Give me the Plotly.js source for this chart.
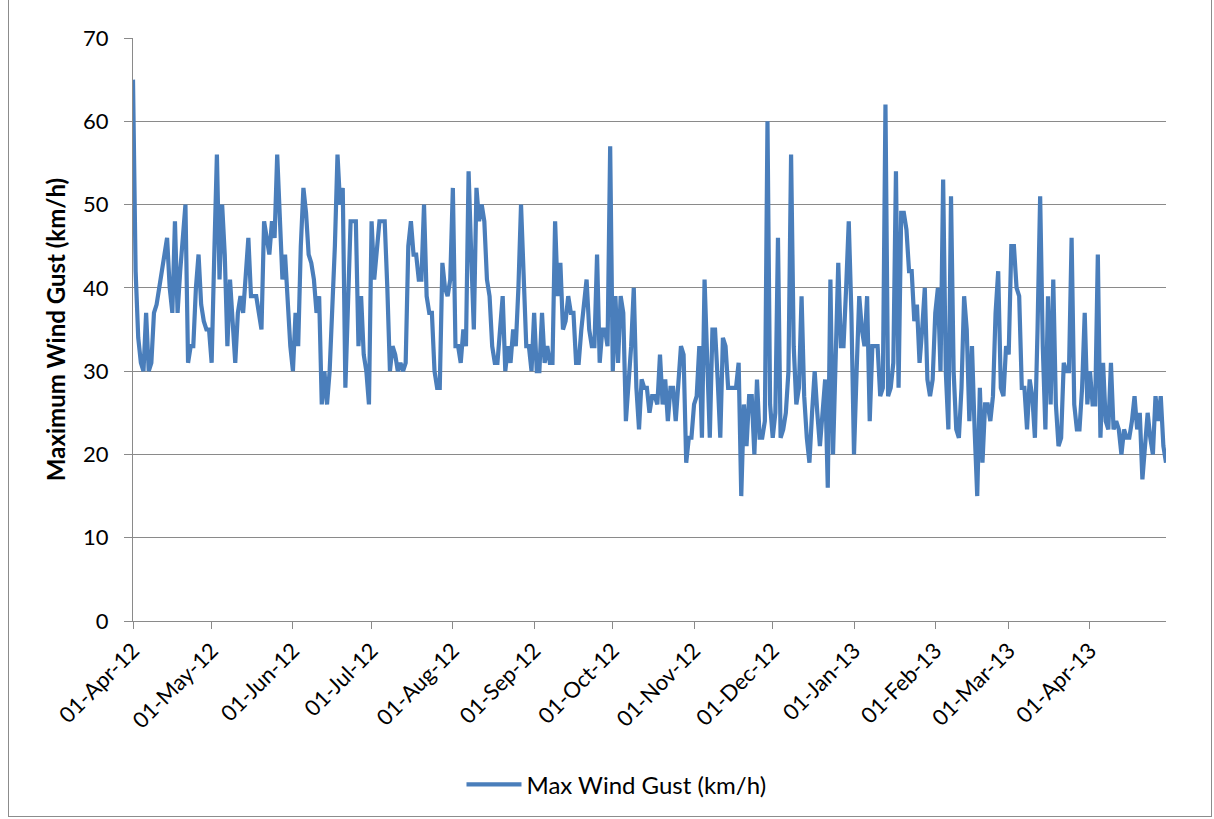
<!DOCTYPE html>
<html>
<head>
<meta charset="utf-8">
<script src="https://cdn.plot.ly/plotly-3.0.1.min.js"></script>
<style>
  html, body { margin: 0; padding: 0; background: #ffffff; }
  #wrap { position: relative; width: 1214px; height: 819px; }
  #chart { width: 1214px; height: 819px; }
  #frame { position: absolute; left: 8px; top: -1px; width: 1204px; height: 818px;
           border: 1px solid #8c8c8c; pointer-events: none; box-sizing: border-box; }
</style>
</head>
<body>
<div id="wrap">
  <div id="chart"></div>
  <div id="frame"></div>
</div>
<script>
// Daily maximum wind gust (km/h), one array per month, 1 Apr 2012 – 30 Apr 2013
const apr12 = [65,42,34,31,30,37,30,31,37,38,40,42,44,46,40,37,48,37,42,46,50,31,33,33,40,44,38,36,35,35];
const may12 = [31,44,56,41,50,44,33,41,35,31,37,39,37,42,46,39,39,39,37,35,48,46,44,48,46,56,48,41,44,38,33];
const jun12 = [30,37,33,45,52,49,44,43,41,37,39,26,30,26,30,37,45,56,50,52,28,38,48,48,48,33,39,32,30,26];
const jul12 = [48,41,44,48,48,48,40,30,33,32,30,31,30,31,45,48,44,44,41,41,50,39,37,37,30,28,28,43,40,39,41];
const aug12 = [52,33,33,31,35,33,54,44,35,52,48,50,48,41,39,33,31,31,35,39,30,33,31,35,33,40,50,40,33,33,30];
const sep12 = [37,30,30,37,31,33,31,31,48,39,43,35,36,39,37,37,31,31,35,38,41,35,33,33,44,31,35,35,33,57];
const oct12 = [30,39,31,39,37,24,28,33,40,28,23,29,28,28,25,27,27,26,32,26,29,24,28,28,24,28,33,32,19,22,22];
const nov12 = [26,27,33,22,41,31,22,35,35,29,22,34,33,28,28,28,28,31,15,26,21,27,27,20,29,22,22,24,60,26];
const dec12 = [22,25,46,22,23,25,30,56,33,26,28,39,27,22,19,25,30,25,21,25,29,16,41,20,33,43,33,33,40,48,37];
const jan13 = [20,30,39,35,33,39,24,33,33,33,27,28,62,27,28,31,54,28,49,49,47,42,42,36,38,31,35,40,29,27,29];
const feb13 = [37,40,30,53,30,23,51,30,23,22,28,39,35,24,33,23,15,28,19,26,26,24,27,37,42,28,27,33];
const mar13 = [32,45,45,40,39,28,28,23,29,27,22,35,51,33,23,39,26,41,26,21,22,31,30,30,46,26,23,23,28,37,26];
const apr13 = [30,26,26,44,22,31,24,23,31,23,24,23,20,23,22,22,24,27,23,25,17,22,25,22,20,27,24,27,21,19];

const months = [apr12, may12, jun12, jul12, aug12, sep12, oct12, nov12, dec12, jan13, feb13, mar13, apr13];
const monthStarts = ['2012-04-01','2012-05-01','2012-06-01','2012-07-01','2012-08-01','2012-09-01',
                     '2012-10-01','2012-11-01','2012-12-01','2013-01-01','2013-02-01','2013-03-01','2013-04-01'];
const tickLabels = ['01-Apr-12','01-May-12','01-Jun-12','01-Jul-12','01-Aug-12','01-Sep-12',
                    '01-Oct-12','01-Nov-12','01-Dec-12','01-Jan-13','01-Feb-13','01-Mar-13','01-Apr-13'];
const seriesName = 'Max Wind Gust (km/h)';

// Build the daily date axis from each month's start and its number of readings
function pad(n) { return (n < 10 ? '0' : '') + n; }
const dates = [];
const gusts = [];
months.forEach(function (vals, mi) {
  const prefix = monthStarts[mi].slice(0, 8);
  vals.forEach(function (v, di) {
    dates.push(prefix + pad(di + 1));
    gusts.push(v);
  });
});

const FONT = 'Lato, Carlito, Calibri, "Open Sans", sans-serif';
const GRID = '#8a8a8a';

const trace = {
  type: 'scatter',
  mode: 'lines',
  x: dates,
  y: gusts,
  name: seriesName,
  showlegend: true,
  line: { color: '#4a7ebb', width: 4.2 },
  hoverinfo: 'x+y'
};

const layout = {
  width: 1214,
  height: 819,
  margin: { l: 133, r: 48, t: 38, b: 198 },
  paper_bgcolor: '#ffffff',
  plot_bgcolor: '#ffffff',
  font: { family: FONT, size: 22, color: '#000000' },
  xaxis: {
    type: 'date',
    range: [dates[0], dates[dates.length - 1]],
    tickmode: 'array',
    tickvals: monthStarts,
    ticktext: tickLabels,
    tickangle: -45,
    ticks: 'outside',
    ticklen: 7,
    tickcolor: GRID,
    tickwidth: 1.3,
    showgrid: false,
    showline: true,
    linecolor: GRID,
    linewidth: 1.3,
    zeroline: false,
    tickfont: { family: FONT, size: 22, color: '#000000' }
  },
  yaxis: {
    range: [0, 70],
    dtick: 10,
    tick0: 0,
    ticks: 'outside',
    ticklen: 8,
    tickcolor: GRID,
    tickwidth: 1.3,
    ticklabelstandoff: 11,
    showgrid: true,
    gridcolor: GRID,
    gridwidth: 1.3,
    showline: true,
    linecolor: GRID,
    linewidth: 1.3,
    zeroline: false,
    tickfont: { family: FONT, size: 22, color: '#000000' },
    title: {
      text: '<b>Maximum Wind Gust (km/h)</b>',
      font: { family: FONT, size: 24, color: '#000000' },
      standoff: 10
    }
  },
  showlegend: true,
  legend: {
    orientation: 'h',
    x: 0.318,
    xanchor: 'left',
    y: -0.281,
    yanchor: 'middle',
    itemwidth: 55,
    font: { family: FONT, size: 24, color: '#000000' },
    bgcolor: 'rgba(0,0,0,0)'
  }
};

Plotly.newPlot('chart', [trace], layout, { displayModeBar: false, responsive: false });
</script>
</body>
</html>
